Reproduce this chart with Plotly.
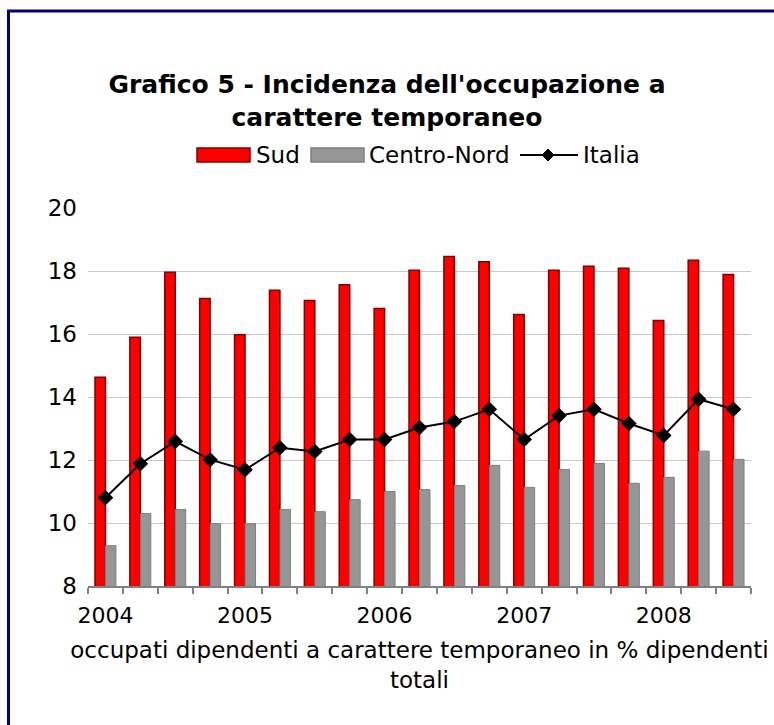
import plotly.graph_objects as go

quarters = ["2004 T1", "2004 T2", "2004 T3", "2004 T4",
            "2005 T1", "2005 T2", "2005 T3", "2005 T4",
            "2006 T1", "2006 T2", "2006 T3", "2006 T4",
            "2007 T1", "2007 T2", "2007 T3", "2007 T4",
            "2008 T1", "2008 T2", "2008 T3"]
sud = [14.63, 15.90, 17.96, 17.13, 15.98, 17.39, 17.06, 17.56, 16.81, 18.02,
       18.46, 18.29, 16.62, 18.02, 18.15, 18.09, 16.43, 18.34, 17.89]
centro_nord = [9.28, 10.30, 10.43, 9.98, 9.98, 10.43, 10.36, 10.74, 11.00, 11.06,
               11.19, 11.83, 11.13, 11.70, 11.89, 11.26, 11.45, 12.28, 12.02]
italia = [10.80, 11.88, 12.59, 12.01, 11.69, 12.39, 12.27, 12.65, 12.65, 13.03,
          13.22, 13.61, 12.65, 13.41, 13.61, 13.16, 12.78, 13.93, 13.61]
series_names = ["Sud", "Centro-Nord", "Italia"]
year_labels = ["2004", "2005", "2006", "2007", "2008"]
y_ticks = [8, 10, 12, 14, 16, 18, 20]

xpos = list(range(len(quarters)))
year_pos = [i for i, q in enumerate(quarters) if q.endswith("T1")]

FONT = "Verdana, DejaVu Sans, sans-serif"
RED, RED_LINE = "#FF0000", "#800000"
GREY, GREY_LINE = "#969696", "#7F7F7F"

fig = go.Figure()
fig.add_trace(go.Bar(
    x=xpos, y=sud, name=series_names[0], customdata=quarters,
    marker=dict(color=RED, line=dict(color=RED_LINE, width=1.5)),
))
fig.add_trace(go.Bar(
    x=xpos, y=centro_nord, name=series_names[1], customdata=quarters,
    marker=dict(color=GREY, line=dict(color=GREY_LINE, width=1)),
))
fig.add_trace(go.Scatter(
    x=xpos, y=italia, name=series_names[2], mode="lines+markers", customdata=quarters,
    line=dict(color="#000000", width=2),
    marker=dict(symbol="diamond", size=12, color="#000000"),
))

L, T = 88, 208
PW, PH = 663, 378


def px(x):
    return (x - L) / PW


def py(y):
    return (T + PH - y) / PH


# custom legend (wide swatches as in the original)
LEG_Y = 155
shapes = [
    dict(type="rect", xref="paper", yref="paper", x0=px(197), x1=px(250),
         y0=py(162), y1=py(148), fillcolor=RED, line=dict(color=RED_LINE, width=1.5)),
    dict(type="rect", xref="paper", yref="paper", x0=px(311), x1=px(364),
         y0=py(162), y1=py(148), fillcolor=GREY, line=dict(color=GREY_LINE, width=1.5)),
    dict(type="line", xref="paper", yref="paper", x0=px(520), x1=px(578),
         y0=py(LEG_Y), y1=py(LEG_Y), line=dict(color="#000000", width=2)),
    dict(type="path", xref="paper", yref="paper",
         path="M {a},{b} L {c},{d} L {a},{e} L {f},{d} Z".format(
             a=px(548), b=py(LEG_Y - 6), c=px(554), d=py(LEG_Y), e=py(LEG_Y + 6), f=px(542)),
         fillcolor="#000000", line=dict(color="#000000", width=1)),
    # navy frame
    dict(type="rect", xref="paper", yref="paper",
         x0=px(8.5), x1=1.6, y0=-1.0, y1=py(11),
         line=dict(color="#000080", width=3), fillcolor="rgba(0,0,0,0)", layer="above"),
]
annotations = [
    dict(text=series_names[0], xref="paper", yref="paper", x=px(254), y=py(LEG_Y),
         xanchor="left", yanchor="middle", showarrow=False, font=dict(family=FONT, size=23)),
    dict(text=series_names[1], xref="paper", yref="paper", x=px(367), y=py(LEG_Y),
         xanchor="left", yanchor="middle", showarrow=False, font=dict(family=FONT, size=23)),
    dict(text=series_names[2], xref="paper", yref="paper", x=px(581), y=py(LEG_Y),
         xanchor="left", yanchor="middle", showarrow=False, font=dict(family=FONT, size=23)),
]

fig.update_layout(
    width=774, height=725,
    margin=dict(l=L, r=774 - L - PW, t=T, b=725 - T - PH, autoexpand=False),
    paper_bgcolor="white", plot_bgcolor="white",
    font=dict(family=FONT, size=20, color="#000000"),
    barmode="group", bargap=0.4, bargroupgap=0,
    showlegend=False,
    title=dict(
        text="<b>Grafico 5 - Incidenza dell'occupazione a<br>carattere temporaneo</b>",
        x=0.5, xref="container", xanchor="center",
        y=1 - 93 / 725, yref="container", yanchor="top",
        font=dict(family=FONT, size=25, color="#000000"),
    ),
    xaxis=dict(
        range=[-0.5, len(quarters) - 0.5],
        tickmode="array", tickvals=year_pos, ticktext=year_labels,
        ticks="", showgrid=False, zeroline=False,
        showline=True, linecolor="#808080", linewidth=1.5,
        tickfont=dict(family=FONT, size=22),
        ticklabelstandoff=9,
        minor=dict(tickmode="array", tickvals=[i - 0.5 for i in range(len(quarters) + 1)],
                   ticks="outside", ticklen=6, tickcolor="#808080", tickwidth=1.5,
                   showgrid=False),
        title=dict(text="occupati dipendenti a carattere temporaneo in % dipendenti<br>totali",
                   font=dict(family=FONT, size=23), standoff=15),
    ),
    yaxis=dict(
        range=[8, 20], tickmode="array", tickvals=y_ticks,
        showgrid=True, gridcolor="#C8C8C8", gridwidth=1,
        zeroline=False, showline=False, ticks="",
        tickfont=dict(family=FONT, size=23),
        ticklabelstandoff=10,
    ),
    shapes=shapes,
    annotations=annotations,
)

fig.write_html("out.html", config={"displayModeBar": False},
               post_script="document.body.style.margin='0';document.body.style.overflow='hidden';")
